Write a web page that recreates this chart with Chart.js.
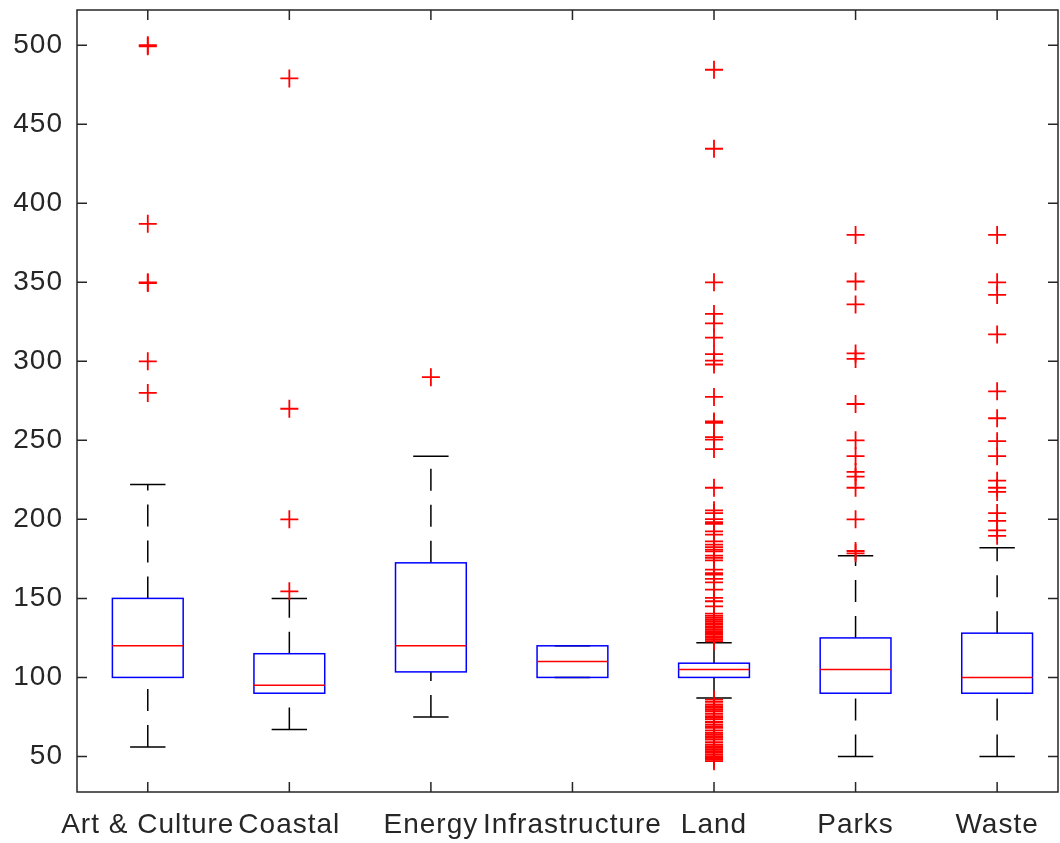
<!DOCTYPE html>
<html>
<head>
<meta charset="utf-8">
<script src="https://cdn.jsdelivr.net/npm/chart.js@4/dist/chart.umd.min.js"></script>
<style>
  html, body { margin: 0; padding: 0; background: #fff; }
  #wrap { width: 1060px; height: 843px; }
</style>
</head>
<body>
<div id="wrap"><canvas id="boxChart" width="1060" height="843"></canvas></div>
<script>
// --- DATA ---
const categories = ['Art & Culture', 'Coastal', 'Energy', 'Infrastructure', 'Land', 'Parks', 'Waste'];
const lowerWhisker = [56, 67, 75, 100, 87, 50, 50];
const q1Values     = [100, 90, 103.5, 100, 100, 90, 90];
const medianValues = [120, 95, 120, 110, 105, 105, 100];
const q3Values     = [150, 115, 172.5, 120, 109, 125, 128];
const upperWhisker = [222, 150, 240, 120, 122, 177, 182];

const outliersArt    = [500, 499.3, 387, 350, 349.5, 300, 280];
const outliersCoast  = [479, 270, 200, 154.5];
const outliersEnergy = [290];
const outliersInfra  = [];
const outliersLand   = [484.5, 434.5, 350, 330, 324, 315, 304.5, 300.5, 298, 277.5, 262, 261, 252, 250.5, 244.5, 220,
                        205.7, 204, 200.2, 198.3, 197.1, 192.4, 190.3, 186.1, 184, 182.5, 180.8, 179.8, 177, 175.6, 174.1,
                        168.2, 166, 165, 162.3, 160.2, 155.6, 150.3, 148.2, 145, 140.4, 139, 137.7, 136.5, 135.5, 134.4,
                        133.4, 132.3, 131.3, 130.2, 129.2, 128.1, 127.1, 126, 125, 124, 122.9,
                        86, 84.5, 82.9, 81.8, 80.8, 79.6, 78.6, 77, 75.5, 74.4, 73.4, 71.8, 70.2, 69, 68.1, 66.5, 65, 64,
                        62.8, 61.7, 60.7, 59, 57.6, 56.5, 55.5, 54.4, 53.4, 52.4, 51.3, 50.2, 49, 48, 47];
const outliersParks  = [380, 350.5, 336, 305, 301.5, 273, 250, 240, 230, 227, 220, 200, 180, 178.5];
const outliersWaste  = [380, 350, 342, 317, 281, 264, 249.5, 240, 224.5, 220, 217.4, 204, 199, 193, 189.6];
const outlierGroups = [outliersArt, outliersCoast, outliersEnergy, outliersInfra, outliersLand, outliersParks, outliersWaste];

const yTicks = [50, 100, 150, 200, 250, 300, 350, 400, 450, 500];

// scatter points for the red "+" markers
const outlierPoints = [];
outlierGroups.forEach((group, i) => {
    group.forEach(v => outlierPoints.push({ x: i + 1, y: v }));
});

Chart.defaults.font.family = "'Liberation Sans', Arial, sans-serif";
Chart.defaults.font.size = 28;
Chart.defaults.color = '#262626';

// draws boxes, whiskers and medians with the chart's own scales
const boxPlugin = {
    id: 'matlabBoxes',
    beforeDraw(chart) {
        chart.ctx.letterSpacing = '1px';
    },
    beforeDatasetsDraw(chart) {
        const { ctx, scales: { x, y } } = chart;
        ctx.save();
        ctx.letterSpacing = '0px';
        categories.forEach((cat, i) => {
            const cx = x.getPixelForValue(i + 1);
            const half = x.getPixelForValue(i + 1.25) - cx;   // box is 0.5 wide
            const capHalf = half / 2;                         // caps 0.25 wide

            // dashed whiskers (drawn from the lower end upward)
            ctx.strokeStyle = '#000000';
            ctx.lineWidth = 1.5;
            ctx.setLineDash([22, 14]);
            ctx.beginPath();
            ctx.moveTo(cx, y.getPixelForValue(q3Values[i]));
            ctx.lineTo(cx, y.getPixelForValue(upperWhisker[i]));
            ctx.moveTo(cx, y.getPixelForValue(lowerWhisker[i]));
            ctx.lineTo(cx, y.getPixelForValue(q1Values[i]));
            ctx.stroke();

            // whisker caps
            ctx.setLineDash([]);
            ctx.beginPath();
            [upperWhisker[i], lowerWhisker[i]].forEach(v => {
                const py = y.getPixelForValue(v);
                ctx.moveTo(cx - capHalf, py);
                ctx.lineTo(cx + capHalf, py);
            });
            ctx.stroke();

            // box
            const top = y.getPixelForValue(q3Values[i]);
            const bot = y.getPixelForValue(q1Values[i]);
            ctx.strokeStyle = '#0000ff';
            ctx.strokeRect(cx - half, top, half * 2, bot - top);

            // median
            const my = y.getPixelForValue(medianValues[i]);
            ctx.strokeStyle = '#ff0000';
            ctx.beginPath();
            ctx.moveTo(cx - half, my);
            ctx.lineTo(cx + half, my);
            ctx.stroke();
        });
        ctx.restore();
    },
    afterDraw(chart) {
        // axes frame with inward ticks
        const { ctx, chartArea: a, scales: { x, y } } = chart;
        ctx.save();
        ctx.strokeStyle = '#262626';
        ctx.lineWidth = 1.5;
        ctx.setLineDash([]);
        ctx.strokeRect(a.left, a.top, a.right - a.left, a.bottom - a.top);
        ctx.beginPath();
        yTicks.forEach(v => {
            const py = y.getPixelForValue(v);
            ctx.moveTo(a.left, py); ctx.lineTo(a.left + 10, py);
            ctx.moveTo(a.right, py); ctx.lineTo(a.right - 10, py);
        });
        categories.forEach((c, i) => {
            const px = x.getPixelForValue(i + 1);
            ctx.moveTo(px, a.bottom); ctx.lineTo(px, a.bottom - 10);
            ctx.moveTo(px, a.top); ctx.lineTo(px, a.top + 10);
        });
        ctx.stroke();
        ctx.restore();
    }
};

new Chart(document.getElementById('boxChart'), {
    type: 'scatter',
    data: {
        datasets: [{
            label: 'Outliers',
            data: outlierPoints,
            pointStyle: 'cross',
            pointRadius: 9,
            pointHoverRadius: 9,
            borderColor: '#ff0000',
            backgroundColor: '#ff0000',
            pointBorderWidth: 1.8,
            borderWidth: 1.8
        }]
    },
    options: {
        responsive: false,
        animation: false,
        devicePixelRatio: 1,
        layout: { autoPadding: false, padding: { top: 10, right: 2, left: 0, bottom: 0 } },
        scales: {
            x: {
                type: 'linear',
                min: 0.5,
                max: 7.43,
                afterBuildTicks: s => { s.ticks = categories.map((c, i) => ({ value: i + 1 })); },
                afterFit: s => { s.height = 51; s.paddingLeft = 0; s.paddingRight = 0; },
                ticks: {
                    autoSkip: false,
                    maxRotation: 0,
                    minRotation: 0,
                    padding: 16,
                    color: '#262626',
                    callback: v => categories[v - 1]
                },
                grid: { display: false, drawTicks: false },
                border: { display: false }
            },
            y: {
                min: 27.5,
                max: 522.3,
                afterBuildTicks: s => { s.ticks = yTicks.map(v => ({ value: v })); },
                afterFit: s => { s.width = 77; s.paddingTop = 0; s.paddingBottom = 0; },
                ticks: { padding: 14, color: '#262626' },
                grid: { display: false, drawTicks: false },
                border: { display: false }
            }
        },
        plugins: {
            legend: { display: false },
            tooltip: { enabled: false }
        }
    },
    plugins: [boxPlugin]
});
</script>
</body>
</html>
